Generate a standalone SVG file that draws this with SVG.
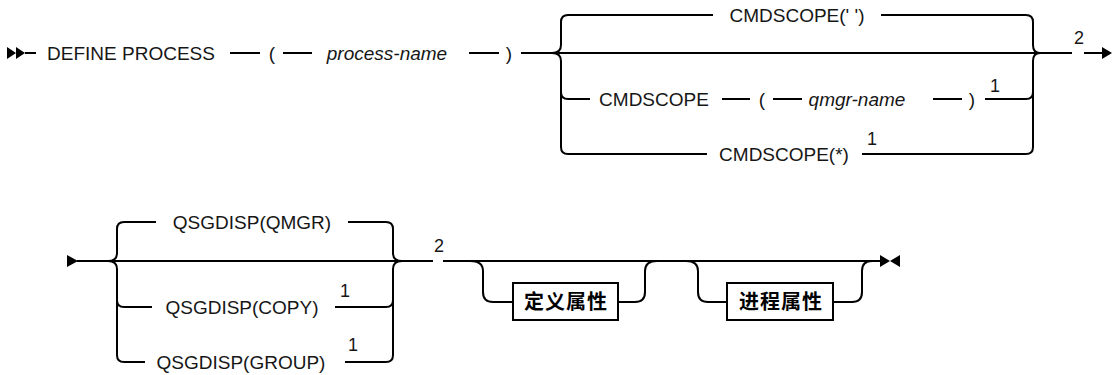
<svg xmlns="http://www.w3.org/2000/svg" width="1113" height="375" viewBox="0 0 1113 375">
<style>
.t{font-family:"Liberation Sans",Arial,sans-serif;font-size:19px;fill:#161616;text-anchor:middle}
.i{font-style:italic}
.n{font-family:"Liberation Sans",Arial,sans-serif;font-size:18px;fill:#161616;text-anchor:middle}
.c{font-family:"Liberation Sans","Noto Sans CJK SC",sans-serif;font-size:20px;font-weight:bold;fill:#000;text-anchor:middle;letter-spacing:1px}
.l{fill:none;stroke:#000;stroke-width:2}
.box{fill:#fff;stroke:#000;stroke-width:2}
.a{fill:#000}
</style>
<rect width="1113" height="375" fill="#fff"/>
<g id="connectors">
  <!-- diagram 1 -->
  <path class="a" d="M7 47 L16 53 L7 59 Z M16 47 L25 53 L16 59 Z"/>
  <path class="l" d="M25 53 H36 M230 53 H260 M283 53 H312 M469 53 H499 M521 53 H1072 M1084 53 H1103"/>
  <path class="a" d="M1102 47 L1112 53 L1102 59 Z"/>
  <!-- left brace -->
  <path class="l" d="M552 53 Q561 53 561 45 V22 Q561 15 568 15 H713 M552 53 Q561 53 561 61 V147 Q561 154 568 154 H707 M561 92 Q561 99 568 99 H590"/>
  <!-- right brace -->
  <path class="l" d="M881 15 H1026 Q1033 15 1033 22 V45 Q1033 53 1040 53 M1040 53 Q1033 53 1033 61 V147 Q1033 154 1026 154 H862 M985 99 H1026 Q1033 99 1033 92"/>
  <path class="l" d="M722 99 H750 M773 99 H802 M933 99 H962"/>
  <!-- diagram 2 -->
  <path class="a" d="M67 255 L78 261 L67 267 Z"/>
  <path class="l" d="M77 261 H433 M443 261 H880"/>
  <path class="l" d="M108 261 Q117 261 117 253 V229 Q117 222 124 222 H156 M108 261 Q117 261 117 269 V355 Q117 362 124 362 H145 M117 300 Q117 307 124 307 H152"/>
  <path class="l" d="M348 222 H386 Q393 222 393 229 V253 Q393 261 402 261 M402 261 Q393 261 393 269 V355 Q393 362 386 362 H345 M335 307 H386 Q393 307 393 300"/>
  <path class="l" d="M470 261 Q483 261 483 271 V292 Q483 302 493 302 H513 M618 302 H635 Q645 302 645 292 V271 Q645 261 657 261"/>
  <path class="l" d="M686 261 Q698 261 698 271 V292 Q698 302 708 302 H727 M833 302 H852 Q862 302 862 292 V271 Q862 261 872 261"/>
  <path class="a" d="M880 255 L890 261 L880 267 Z M900 255 L890 261 L900 267 Z"/>
</g>
<g id="define-process"><text class="t" x="131" y="60">DEFINE PROCESS</text></g>
<g id="lparen1"><text class="t" x="272" y="60">(</text></g>
<g id="process-name"><text class="t i" x="387" y="60">process-name</text></g>
<g id="rparen1"><text class="t" x="509" y="60">)</text></g>
<g id="cmdscope-blank"><text class="t" x="797" y="22">CMDSCOPE(' ')</text></g>
<g id="cmdscope-q"><text class="t" x="654" y="106">CMDSCOPE</text></g>
<g id="lparen2"><text class="t" x="762" y="106">(</text></g>
<g id="qmgr-name"><text class="t i" x="857" y="106">qmgr-name</text></g>
<g id="rparen2"><text class="t" x="972" y="106">)</text></g>
<g id="note1a"><text class="n" x="995" y="92">1</text></g>
<g id="cmdscope-star"><text class="t" x="784" y="161">CMDSCOPE(*)</text></g>
<g id="note1b"><text class="n" x="872" y="145">1</text></g>
<g id="note2a"><text class="n" x="1079" y="44">2</text></g>
<g id="qsg-qmgr"><text class="t" x="252" y="229">QSGDISP(QMGR)</text></g>
<g id="qsg-copy"><text class="t" x="242" y="314">QSGDISP(COPY)</text></g>
<g id="note1c"><text class="n" x="345" y="297">1</text></g>
<g id="qsg-group"><text class="t" x="241" y="369">QSGDISP(GROUP)</text></g>
<g id="note1d"><text class="n" x="353" y="351">1</text></g>
<g id="note2b"><text class="n" x="439" y="252">2</text></g>
<g id="define-attrs"><rect class="box" x="513" y="283" width="105" height="37"/><text class="c" x="566" y="309">定义属性</text></g>
<g id="process-attrs"><rect class="box" x="727" y="283" width="106" height="37"/><text class="c" x="781" y="309">进程属性</text></g>
</svg>
